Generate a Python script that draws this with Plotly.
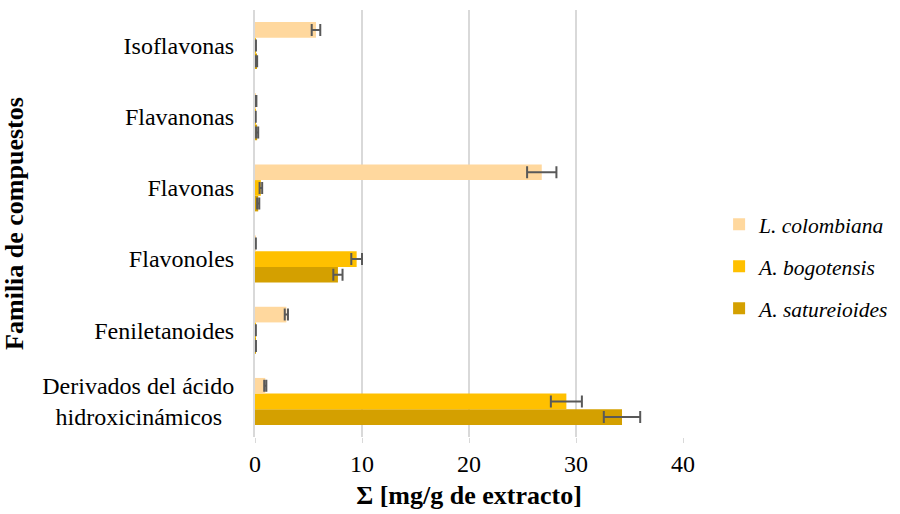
import plotly.graph_objects as go

# Compound families (bottom to top on the category axis)
familias = [
    "Derivados del ácido<br>hidroxicinámicos\u00a0\u00a0",
    "Feniletanoides",
    "Flavonoles",
    "Flavonas",
    "Flavanonas",
    "Isoflavonas",
]

# Sum of compounds per family, mg/g of extract, with standard deviations
l_colombiana = [0.96, 2.93, 0.05, 26.8, 0.08, 5.7]
l_colombiana_sd = [0.10, 0.15, 0.03, 1.37, 0.05, 0.40]

a_bogotensis = [29.1, 0.05, 9.5, 0.55, 0.04, 0.05]
a_bogotensis_sd = [1.45, 0.03, 0.50, 0.12, 0.03, 0.04]

a_satureioides = [34.3, 0.05, 7.75, 0.30, 0.20, 0.12]
a_satureioides_sd = [1.70, 0.04, 0.43, 0.10, 0.10, 0.08]

# (name, values, sd, colour, legend rank)
series = [
    ("A. satureioides", a_satureioides, a_satureioides_sd, "#D4A000", 3),
    ("A. bogotensis", a_bogotensis, a_bogotensis_sd, "#FFC000", 2),
    ("L. colombiana", l_colombiana, l_colombiana_sd, "#FFD89E", 1),
]

serif = "Liberation Serif, Times New Roman, serif"

fig = go.Figure()
for name, vals, sd, color, rank in series:
    fig.add_trace(go.Bar(
        y=familias,
        x=vals,
        name=name,
        orientation="h",
        marker=dict(color=color, line=dict(width=0)),
        error_x=dict(type="data", array=sd, visible=True,
                     color="#595959", thickness=2, width=6),
        legendgroup=name,
        legendrank=rank,
    ))

fig.update_layout(
    width=900,
    height=514,
    barmode="group",
    bargap=0.34,
    bargroupgap=0.0,
    plot_bgcolor="white",
    paper_bgcolor="white",
    margin=dict(l=255, r=217, t=10, b=77, autoexpand=False),
    font=dict(family=serif, size=24, color="#000000"),
    legend=dict(
        xref="container", yref="container",
        x=0.799, y=0.482, xanchor="left", yanchor="middle",
        traceorder="grouped",
        tracegroupgap=11,
        font=dict(family=serif, size=21.5, style="italic", color="#000000"),
        itemwidth=30,
    ),
    xaxis=dict(
        range=[0, 40],
        tickvals=[0, 10, 20, 30, 40],
        showgrid=True,
        gridcolor="#D9D9D9",
        gridwidth=1.5,
        zeroline=False,
        showline=False,
        ticks="outside",
        ticklen=5,
        tickcolor="#D9D9D9",
        tickfont=dict(family=serif, size=24),
        title=dict(text="<b>Σ [mg/g de extracto]</b>",
                   font=dict(family=serif, size=26), standoff=10),
    ),
    yaxis=dict(
        showgrid=False,
        showline=True,
        linecolor="#D9D9D9",
        linewidth=2,
        ticks="",
        tickfont=dict(family=serif, size=24),
        ticklabelstandoff=14,
        title=dict(text="<b>Familia de compuestos</b>",
                   font=dict(family=serif, size=26), standoff=12),
    ),
)

fig.write_html("out.html")
